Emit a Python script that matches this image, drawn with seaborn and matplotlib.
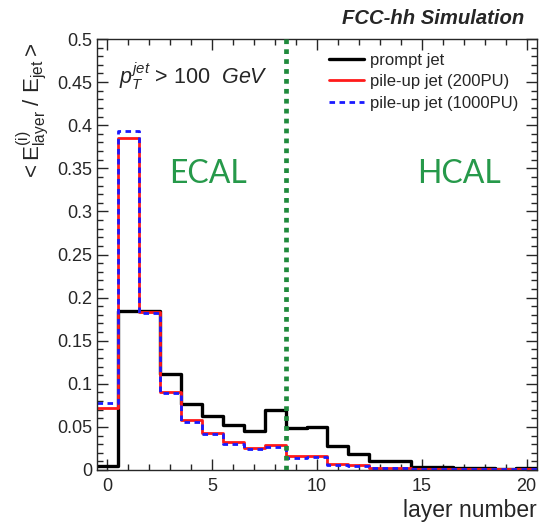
import numpy as np
import pandas as pd
import matplotlib
matplotlib.use("Agg")
import matplotlib.pyplot as plt
import seaborn as sns
from matplotlib.ticker import MultipleLocator

layers = list(range(21))
prompt_jet = [0.005, 0.185, 0.185, 0.111, 0.077, 0.063, 0.052, 0.045, 0.070, 0.049, 0.050,
              0.028, 0.019, 0.010, 0.010, 0.003, 0.003, 0.002, 0.002, 0.001, 0.002]
pileup_200 = [0.072, 0.385, 0.183, 0.091, 0.058, 0.043, 0.032, 0.026, 0.029, 0.016, 0.016,
              0.007, 0.006, 0.002, 0.002, 0.001, 0.001, 0.001, 0.001, 0.001, 0.001]
pileup_1000 = [0.078, 0.393, 0.182, 0.089, 0.056, 0.042, 0.030, 0.024, 0.027, 0.014, 0.015,
               0.006, 0.005, 0.002, 0.002, 0.001, 0.001, 0.001, 0.001, 0.001, 0.001]
y_ticks = [0, 0.05, 0.1, 0.15, 0.2, 0.25, 0.3, 0.35, 0.4, 0.45, 0.5]
y_tick_labels = ["0", "0.05", "0.1", "0.15", "0.2", "0.25", "0.3", "0.35", "0.4", "0.45", "0.5"]
x_ticks = [0, 5, 10, 15, 20]
ecal_hcal_boundary = 8.5

sns.set_style("ticks")
plt.rcParams['font.family'] = ['Liberation Sans', 'DejaVu Sans']
plt.rcParams['mathtext.fontset'] = 'custom'
plt.rcParams['mathtext.rm'] = 'Liberation Sans'
plt.rcParams['mathtext.it'] = 'Liberation Sans:italic'
plt.rcParams['mathtext.bf'] = 'Liberation Sans:bold'

W, H = 539, 524
fig = plt.figure(figsize=(W / 100, H / 100), dpi=100)
ax = fig.add_axes([97 / W, 1 - 470 / H, 440 / W, 431 / H])

df = pd.DataFrame({"layer": layers, "prompt": prompt_jet, "pu200": pileup_200, "pu1000": pileup_1000})

sns.histplot(data=df, x="layer", weights="prompt", discrete=True, element="step", fill=False,
             color="black", linewidth=2.4, ax=ax, label="prompt jet")
sns.histplot(data=df, x="layer", weights="pu200", discrete=True, element="step", fill=False,
             color="#ff1a1a", linewidth=2.0, ax=ax, label="pile-up jet (200PU)")
sns.histplot(data=df, x="layer", weights="pu1000", discrete=True, element="step", fill=False,
             color="#1a1aff", linewidth=2.0, linestyle=(0, (2.0, 1.6)), ax=ax,
             label="pile-up jet (1000PU)")

ax.axvline(ecal_hcal_boundary, color="#1f8a3c", linewidth=3.4, linestyle=(0, (1, 1.1)), zorder=5)

ax.set_xlim(-0.5, 20.5)
ax.set_ylim(0, 0.5)
ax.set_xticks(x_ticks)
ax.set_yticks(y_ticks)
ax.set_yticklabels(y_tick_labels)
ax.xaxis.set_minor_locator(MultipleLocator(1))
ax.yaxis.set_minor_locator(MultipleLocator(0.01))
ax.tick_params(which="both", direction="in", top=True, right=True, width=1.0, labelsize=13)
ax.tick_params(which="major", length=8)
ax.tick_params(which="minor", length=4)
ax.tick_params(axis="x", pad=6)
ax.set_xlabel("")
ax.set_ylabel("")
for s in ax.spines.values():
    s.set_linewidth(1.0)

leg = ax.legend(loc="upper left", bbox_to_anchor=((329 - 97) / 440, (470 - 53) / 431),
                frameon=False, fontsize=12, handlelength=2.1, handletextpad=0.35,
                labelspacing=0.38, borderpad=0, borderaxespad=0)

fig.text(537 / W, 1 - 510 / H, "layer number", ha="right", va="center", fontsize=16.5)
fig.text(33 / W, 1 - 43 / H, r"$\mathrm{<E^{(i)}_{layer}\ /\ E_{jet}>}$", rotation=90,
         rotation_mode="anchor", ha="right", va="center", fontsize=16)
fig.text(524 / W, 1 - 18 / H, "FCC-hh Simulation", ha="right", va="center", fontsize=14.6,
         fontweight="bold", fontstyle="italic")
fig.text(119 / W, 1 - 76 / H, r"$p_T^{jet}$ > 100  $GeV$", ha="left", va="center", fontsize=15.5)
fig.text(208 / W, 1 - 174 / H, "ECAL", ha="center", va="center", fontsize=23,
         color="#26994a", family="Lato")
fig.text(459 / W, 1 - 174 / H, "HCAL", ha="center", va="center", fontsize=23,
         color="#26994a", family="Lato")

fig.savefig("out.png", dpi=100)
